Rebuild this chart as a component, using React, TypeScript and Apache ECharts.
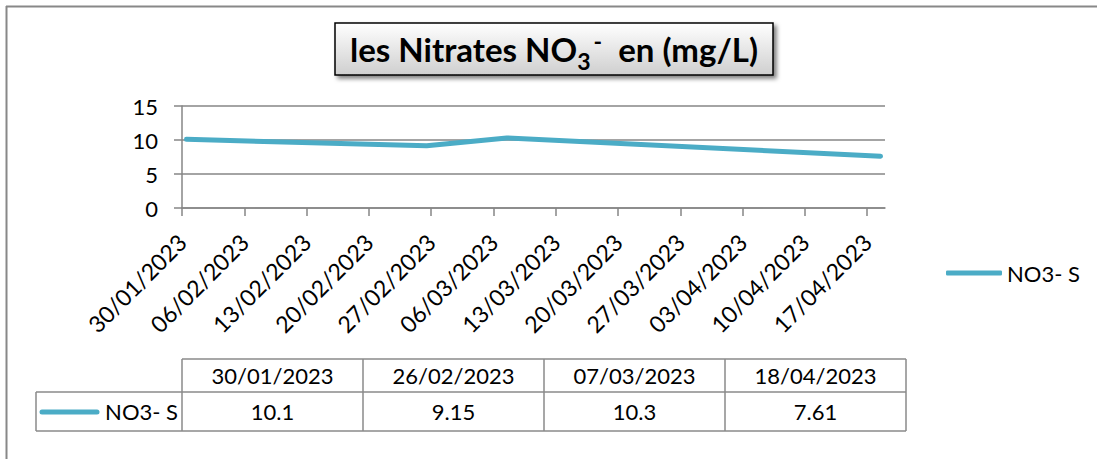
import React, { useEffect, useRef } from 'react';
import * as echarts from 'echarts';

// ---- data ----
const sampleDates = ['2023-01-30', '2023-02-26', '2023-03-07', '2023-04-18'];
const no3Values = [10.1, 9.15, 10.3, 7.61];
const seriesName = 'NO3- S';
const tickDates = [
  '2023-01-30', '2023-02-06', '2023-02-13', '2023-02-20', '2023-02-27', '2023-03-06',
  '2023-03-13', '2023-03-20', '2023-03-27', '2023-04-03', '2023-04-10', '2023-04-17',
];
const axisStart = '2023-01-30';
const axisEnd = '2023-04-19';
const yMin = 0;
const yMax = 15;
const yStep = 5;

const FONT = 'Lato, "Noto Sans", sans-serif';
const LINE_COLOR = '#4BACC6';
const GRID_COLOR = '#868686';
const DAY = 86400000;

const fmt = (ms: number) => {
  const d = new Date(ms);
  const dd = String(d.getUTCDate()).padStart(2, '0');
  const mm = String(d.getUTCMonth() + 1).padStart(2, '0');
  return `${dd}/${mm}/${d.getUTCFullYear()}`;
};

export default function App() {
  const ref = useRef<HTMLDivElement>(null);

  useEffect(() => {
    if (!ref.current) return;
    const chart = echarts.init(ref.current, undefined, { renderer: 'svg' });

    const tickMs = tickDates.map((d) => Date.parse(d));
    // points sit in the middle of their day band (Excel date axis)
    const seriesData = sampleDates.map((d, i) => [Date.parse(d) + DAY / 2, no3Values[i]]);

    // data table
    const tLeft = 182;
    const colW = 181;
    const hTop = 359;
    const rTop = 392;
    const rBot = 431;
    const keyLeft = 36;
    const tableChildren: any[] = [];
    const bStyle = { stroke: '#8a8a8a', lineWidth: 1.5 };
    const nCols = sampleDates.length;
    const tRight = tLeft + colW * nCols;
    tableChildren.push({ type: 'line', shape: { x1: tLeft, y1: hTop, x2: tRight, y2: hTop }, style: bStyle });
    tableChildren.push({ type: 'line', shape: { x1: keyLeft, y1: rTop, x2: tRight, y2: rTop }, style: bStyle });
    tableChildren.push({ type: 'line', shape: { x1: keyLeft, y1: rBot, x2: tRight, y2: rBot }, style: bStyle });
    tableChildren.push({ type: 'line', shape: { x1: keyLeft, y1: rTop, x2: keyLeft, y2: rBot }, style: bStyle });
    for (let i = 0; i <= nCols; i++) {
      const x = tLeft + colW * i;
      tableChildren.push({ type: 'line', shape: { x1: x, y1: hTop, x2: x, y2: rBot }, style: bStyle });
    }
    sampleDates.forEach((d, i) => {
      const cx = tLeft + colW * i + colW / 2;
      tableChildren.push({
        type: 'text', x: cx, y: (hTop + rTop) / 2,
        style: { text: fmt(Date.parse(d)), fill: '#000', font: `22px ${FONT}`, align: 'center', verticalAlign: 'middle' },
      });
      tableChildren.push({
        type: 'text', x: cx, y: (rTop + rBot) / 2,
        style: { text: String(no3Values[i]), fill: '#000', font: `22px ${FONT}`, align: 'center', verticalAlign: 'middle' },
      });
    });
    tableChildren.push({
      type: 'line', shape: { x1: 42, y1: 412, x2: 97, y2: 412 },
      style: { stroke: LINE_COLOR, lineWidth: 5, lineCap: 'round' },
    });
    tableChildren.push({
      type: 'text', x: 178, y: (rTop + rBot) / 2,
      style: { text: seriesName, fill: '#000', font: `22px ${FONT}`, align: 'right', verticalAlign: 'middle' },
    });

    const option: any = {
      animation: false,
      backgroundColor: '#ffffff',
      grid: { left: 182, top: 106, width: 703, height: 102, containLabel: false },
      legend: {
        show: true,
        left: 941,
        top: 257,
        icon: 'roundRect',
        itemWidth: 56,
        itemHeight: 5,
        itemStyle: { color: LINE_COLOR },
        textStyle: { fontSize: 22, color: '#000', fontFamily: FONT },
        data: [seriesName],
      },
      xAxis: {
        type: 'value',
        min: Date.parse(axisStart),
        max: Date.parse(axisEnd),
        axisLine: { show: true, lineStyle: { color: GRID_COLOR, width: 1.5 } },
        axisTick: { show: true, customValues: tickMs, length: 8, lineStyle: { color: GRID_COLOR, width: 1.5 } },
        axisLabel: {
          customValues: tickMs,
          rotate: 45,
          margin: 30,
          fontSize: 23,
          color: '#000',
          fontFamily: FONT,
          formatter: (v: number) => fmt(v),
        },
        splitLine: { show: false },
      },
      yAxis: {
        type: 'value',
        min: yMin,
        max: yMax,
        interval: yStep,
        axisLine: { show: true, lineStyle: { color: GRID_COLOR, width: 1.5 } },
        axisTick: { show: true, length: 8, lineStyle: { color: GRID_COLOR, width: 1.5 } },
        axisLabel: { margin: 24, fontSize: 22, color: '#000', fontFamily: FONT },
        splitLine: { show: true, lineStyle: { color: GRID_COLOR, width: 1.5 } },
      },
      series: [
        {
          name: seriesName,
          type: 'line',
          data: seriesData,
          symbol: 'none',
          lineStyle: { color: LINE_COLOR, width: 5, cap: 'round', join: 'round' },
          itemStyle: { color: LINE_COLOR },
        },
      ],
      graphic: [
        { type: 'line', shape: { x1: 6, y1: 6.5, x2: 1097, y2: 6.5 }, style: { stroke: '#888', lineWidth: 2 } },
        { type: 'line', shape: { x1: 6.5, y1: 6, x2: 6.5, y2: 459 }, style: { stroke: '#888', lineWidth: 2 } },
        {
          type: 'rect',
          shape: { x: 335, y: 23, width: 438, height: 52 },
          style: {
            fill: new echarts.graphic.LinearGradient(0, 0, 0, 1, [
              { offset: 0, color: '#ffffff' },
              { offset: 1, color: '#cfcfcf' },
            ]),
            stroke: '#000',
            lineWidth: 1.5,
            shadowBlur: 4,
            shadowOffsetX: 3,
            shadowOffsetY: 3,
            shadowColor: 'rgba(0,0,0,0.5)',
          },
          z: 10,
        },
        {
          type: 'text',
          x: 554,
          y: 49,
          z: 11,
          style: {
            text: '{b|les Nitrates NO}{sub|3}{sup|-}{b|  en (mg/L)}',
            align: 'center',
            verticalAlign: 'middle',
            rich: {
              b: { fontSize: 33, fontWeight: 'bold', fontFamily: FONT, fill: '#000' },
              sub: { fontSize: 23, fontWeight: 'bold', fontFamily: FONT, fill: '#000', padding: [24, 0, 0, 0] },
              sup: { fontSize: 23, fontWeight: 'bold', fontFamily: FONT, fill: '#000', padding: [0, 0, 16, 3] },
            },
          },
        },
        { type: 'group', children: tableChildren },
      ],
    };

    chart.setOption(option);
    return () => chart.dispose();
  }, []);

  return (
    <div
      ref={ref}
      style={{ position: 'fixed', left: 0, top: 0, width: 1097, height: 459, background: '#fff' }}
    />
  );
}
